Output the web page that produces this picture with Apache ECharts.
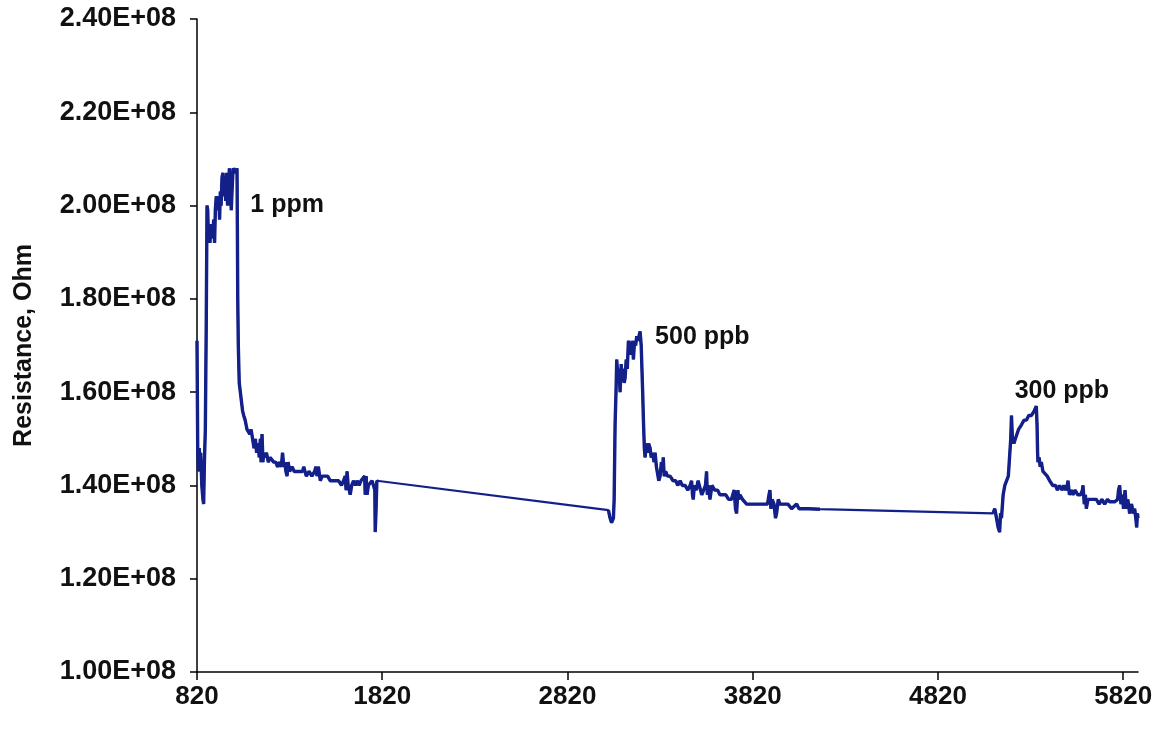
<!DOCTYPE html>
<html>
<head>
    <meta charset="utf-8">
    <script src="https://cdn.jsdelivr.net/npm/echarts@6/dist/echarts.min.js"></script>
</head>
<body style="margin:0;background:#fff;">
    <div id="main" style="width:1164px;height:733px;"></div>
    <script type="text/javascript">
    // resistance values are in units of 1E+08 Ohm
    var run1Time = [820,824,828,832,836,840,846,852,856,860,865,870,874,878,882,886,890,895,901,905,910,915,919,924,928,932,937,942,946,950,955,960,965,970,975,980,985,990,995,1000,1005,1009,1015,1022,1030,1036,1038,1040,1043,1048,1054,1060,1066,1072,1080,1090,1099,1105,1112,1120,1128,1135,1142,1150,1156,1162,1166,1171,1176,1180,1186,1195,1205,1215,1225,1234,1245,1255,1265,1275,1282,1288,1294,1300,1306,1312,1320,1333,1345,1360,1375,1390,1396,1410,1425,1440,1455,1462,1468,1475,1486,1495,1510,1525,1540,1555,1570,1585,1600,1611,1620,1625,1630,1636,1642,1647,1655,1665,1675,1684,1695,1705,1715,1725,1728,1733,1738,1745,1755,1765,1773,1780,1782,1786,1791,1798];
    var run1Res = [1.71,1.47,1.43,1.48,1.44,1.47,1.40,1.37,1.36,1.45,1.52,1.75,2.00,1.99,1.92,1.95,1.92,1.96,1.96,1.93,1.97,1.92,1.99,2.02,2.01,1.99,2.02,1.97,2.03,2.00,2.06,2.07,2.02,2.06,2.01,2.07,2.00,2.05,2.08,2.03,1.99,2.03,2.08,2.08,2.07,2.08,1.95,1.80,1.70,1.62,1.60,1.58,1.56,1.55,1.54,1.52,1.52,1.51,1.52,1.50,1.48,1.50,1.47,1.49,1.46,1.50,1.45,1.51,1.45,1.47,1.46,1.47,1.45,1.46,1.46,1.45,1.45,1.44,1.45,1.44,1.47,1.44,1.45,1.43,1.42,1.45,1.43,1.44,1.43,1.43,1.43,1.43,1.44,1.42,1.43,1.42,1.43,1.44,1.42,1.44,1.41,1.42,1.42,1.42,1.41,1.41,1.41,1.41,1.40,1.41,1.42,1.39,1.43,1.40,1.39,1.38,1.40,1.41,1.40,1.41,1.40,1.41,1.41,1.42,1.38,1.42,1.38,1.40,1.40,1.41,1.40,1.39,1.30,1.34,1.41,1.408];

    var run2Time = [3041,3050,3058,3068,3072,3077,3082,3086,3092,3098,3104,3110,3113,3120,3126,3131,3137,3143,3149,3155,3162,3170,3176,3182,3188,3194,3200,3206,3212,3218,3221,3226,3230,3235,3239,3246,3252,3258,3266,3272,3280,3287,3293,3300,3307,3313,3320,3327,3333,3337,3342,3350,3360,3374,3390,3405,3415,3428,3440,3455,3470,3482,3490,3495,3499,3505,3515,3525,3535,3545,3555,3565,3571,3575,3582,3589,3600,3615,3630,3643,3660,3675,3690,3705,3715,3720,3727,3733,3740,3745,3751,3765,3787,3810,3830,3845,3859,3880,3900,3908,3913,3918,3925,3935,3943,3949,3958,3967,3990,4010,4030,4057,4070,4092,4120,4183];
    var run2Res = [1.347,1.33,1.32,1.33,1.37,1.53,1.60,1.67,1.63,1.65,1.60,1.66,1.64,1.65,1.62,1.63,1.67,1.65,1.71,1.70,1.68,1.71,1.67,1.71,1.70,1.72,1.71,1.72,1.73,1.70,1.70,1.60,1.54,1.48,1.46,1.49,1.47,1.49,1.48,1.46,1.47,1.45,1.47,1.44,1.44,1.41,1.42,1.45,1.43,1.46,1.42,1.43,1.42,1.42,1.41,1.41,1.40,1.41,1.40,1.40,1.39,1.40,1.41,1.38,1.37,1.40,1.39,1.41,1.41,1.38,1.39,1.40,1.43,1.38,1.40,1.37,1.40,1.39,1.39,1.38,1.38,1.38,1.37,1.37,1.37,1.39,1.35,1.34,1.39,1.37,1.38,1.37,1.36,1.36,1.36,1.36,1.36,1.36,1.36,1.38,1.39,1.35,1.37,1.36,1.33,1.34,1.37,1.36,1.36,1.36,1.35,1.36,1.35,1.35,1.35,1.349];

    var run3Time = [5117,5127,5135,5145,5153,5158,5163,5172,5181,5190,5200,5208,5213,5217,5222,5230,5238,5244,5255,5265,5271,5285,5298,5310,5325,5340,5351,5355,5358,5360,5366,5372,5378,5387,5396,5410,5423,5440,5455,5465,5477,5490,5500,5510,5518,5522,5530,5540,5549,5560,5575,5590,5600,5603,5610,5616,5621,5630,5645,5660,5675,5690,5705,5720,5735,5747,5760,5775,5790,5795,5801,5808,5815,5822,5830,5837,5845,5855,5865,5875,5882,5888,5893,5897,5900];
    var run3Res = [1.34,1.35,1.35,1.31,1.30,1.34,1.33,1.38,1.40,1.40,1.42,1.42,1.50,1.55,1.50,1.49,1.50,1.50,1.52,1.52,1.53,1.54,1.54,1.55,1.55,1.56,1.57,1.53,1.47,1.45,1.46,1.44,1.45,1.43,1.43,1.42,1.41,1.40,1.40,1.39,1.40,1.39,1.40,1.39,1.40,1.41,1.38,1.39,1.38,1.39,1.38,1.38,1.39,1.40,1.36,1.38,1.35,1.37,1.37,1.37,1.37,1.36,1.37,1.36,1.37,1.365,1.365,1.365,1.37,1.39,1.40,1.36,1.38,1.35,1.39,1.35,1.37,1.34,1.36,1.34,1.35,1.33,1.31,1.34,1.33];

    var xTicks = [820, 1820, 2820, 3820, 4820, 5820];
    var noteText = ['1 ppm', '500 ppb', '300 ppb'];
    var noteTime = [1108, 3293, 5234];
    var noteRes = [2.00, 1.718, 1.602];

    // all points joined (the gaps between runs are drawn as straight lines)
    // plus the runs alone, drawn thicker on top like the noisy trace
    var pts = [], runPts = [];
    [[run1Time, run1Res], [run2Time, run2Res], [run3Time, run3Res]].forEach(function (r, k) {
        if (k > 0) runPts.push([r[0][0], null]);
        for (var i = 0; i < r[0].length; i++) {
            pts.push([r[0][i], r[1][i]]);
            runPts.push([r[0][i], r[1][i]]);
        }
    });
    var notes = [];
    for (var i = 0; i < noteText.length; i++) {
        notes.push({ coord: [noteTime[i], noteRes[i]], value: noteText[i] });
    }

    var font = "'Liberation Sans', Arial, sans-serif";
    var navy = '#14208a';
    var chart = echarts.init(document.getElementById('main'));
    chart.setOption({
        animation: false,
        grid: { left: 197, right: 26, top: 19, bottom: 61, containLabel: false, outerBoundsMode: 'none' },
        xAxis: {
            type: 'value', min: 820, max: 5900,
            axisLine: { lineStyle: { color: '#000', width: 1.5 } },
            axisTick: { customValues: xTicks, length: 8, lineStyle: { color: '#000', width: 1.5 } },
            axisLabel: {
                customValues: xTicks, margin: 12, color: '#111', fontSize: 26, fontWeight: 'bold', fontFamily: font,
                formatter: function (v) { return String(v); }
            },
            splitLine: { show: false }
        },
        yAxis: {
            type: 'value', min: 1.0, max: 2.4, interval: 0.2,
            name: 'Resistance, Ohm', nameLocation: 'middle', nameGap: 160,
            nameTextStyle: { color: '#111', fontSize: 25, fontWeight: 'bold', fontFamily: font },
            axisLine: { show: true, lineStyle: { color: '#000', width: 1.5 } },
            axisTick: { show: true, length: 7, lineStyle: { color: '#000', width: 1.5 } },
            axisLabel: {
                margin: 21, color: '#111', fontSize: 27, fontWeight: 'bold', fontFamily: font,
                formatter: function (v) { return v.toFixed(2) + 'E+08'; }
            },
            splitLine: { show: false }
        },
        series: [{
            type: 'line',
            data: pts,
            showSymbol: false,
            lineStyle: { color: navy, width: 2.2 },
            markPoint: {
                symbol: 'circle', symbolSize: 0,
                label: {
                    show: true, position: 'right', distance: 0, formatter: '{c}',
                    color: '#111', fontSize: 25, fontWeight: 'bold', fontFamily: font
                },
                data: notes
            }
        }, {
            type: 'line',
            data: runPts,
            showSymbol: false,
            connectNulls: false,
            lineStyle: { color: navy, width: 3.4, join: 'bevel' }
        }]
    });
    </script>
</body>
</html>
